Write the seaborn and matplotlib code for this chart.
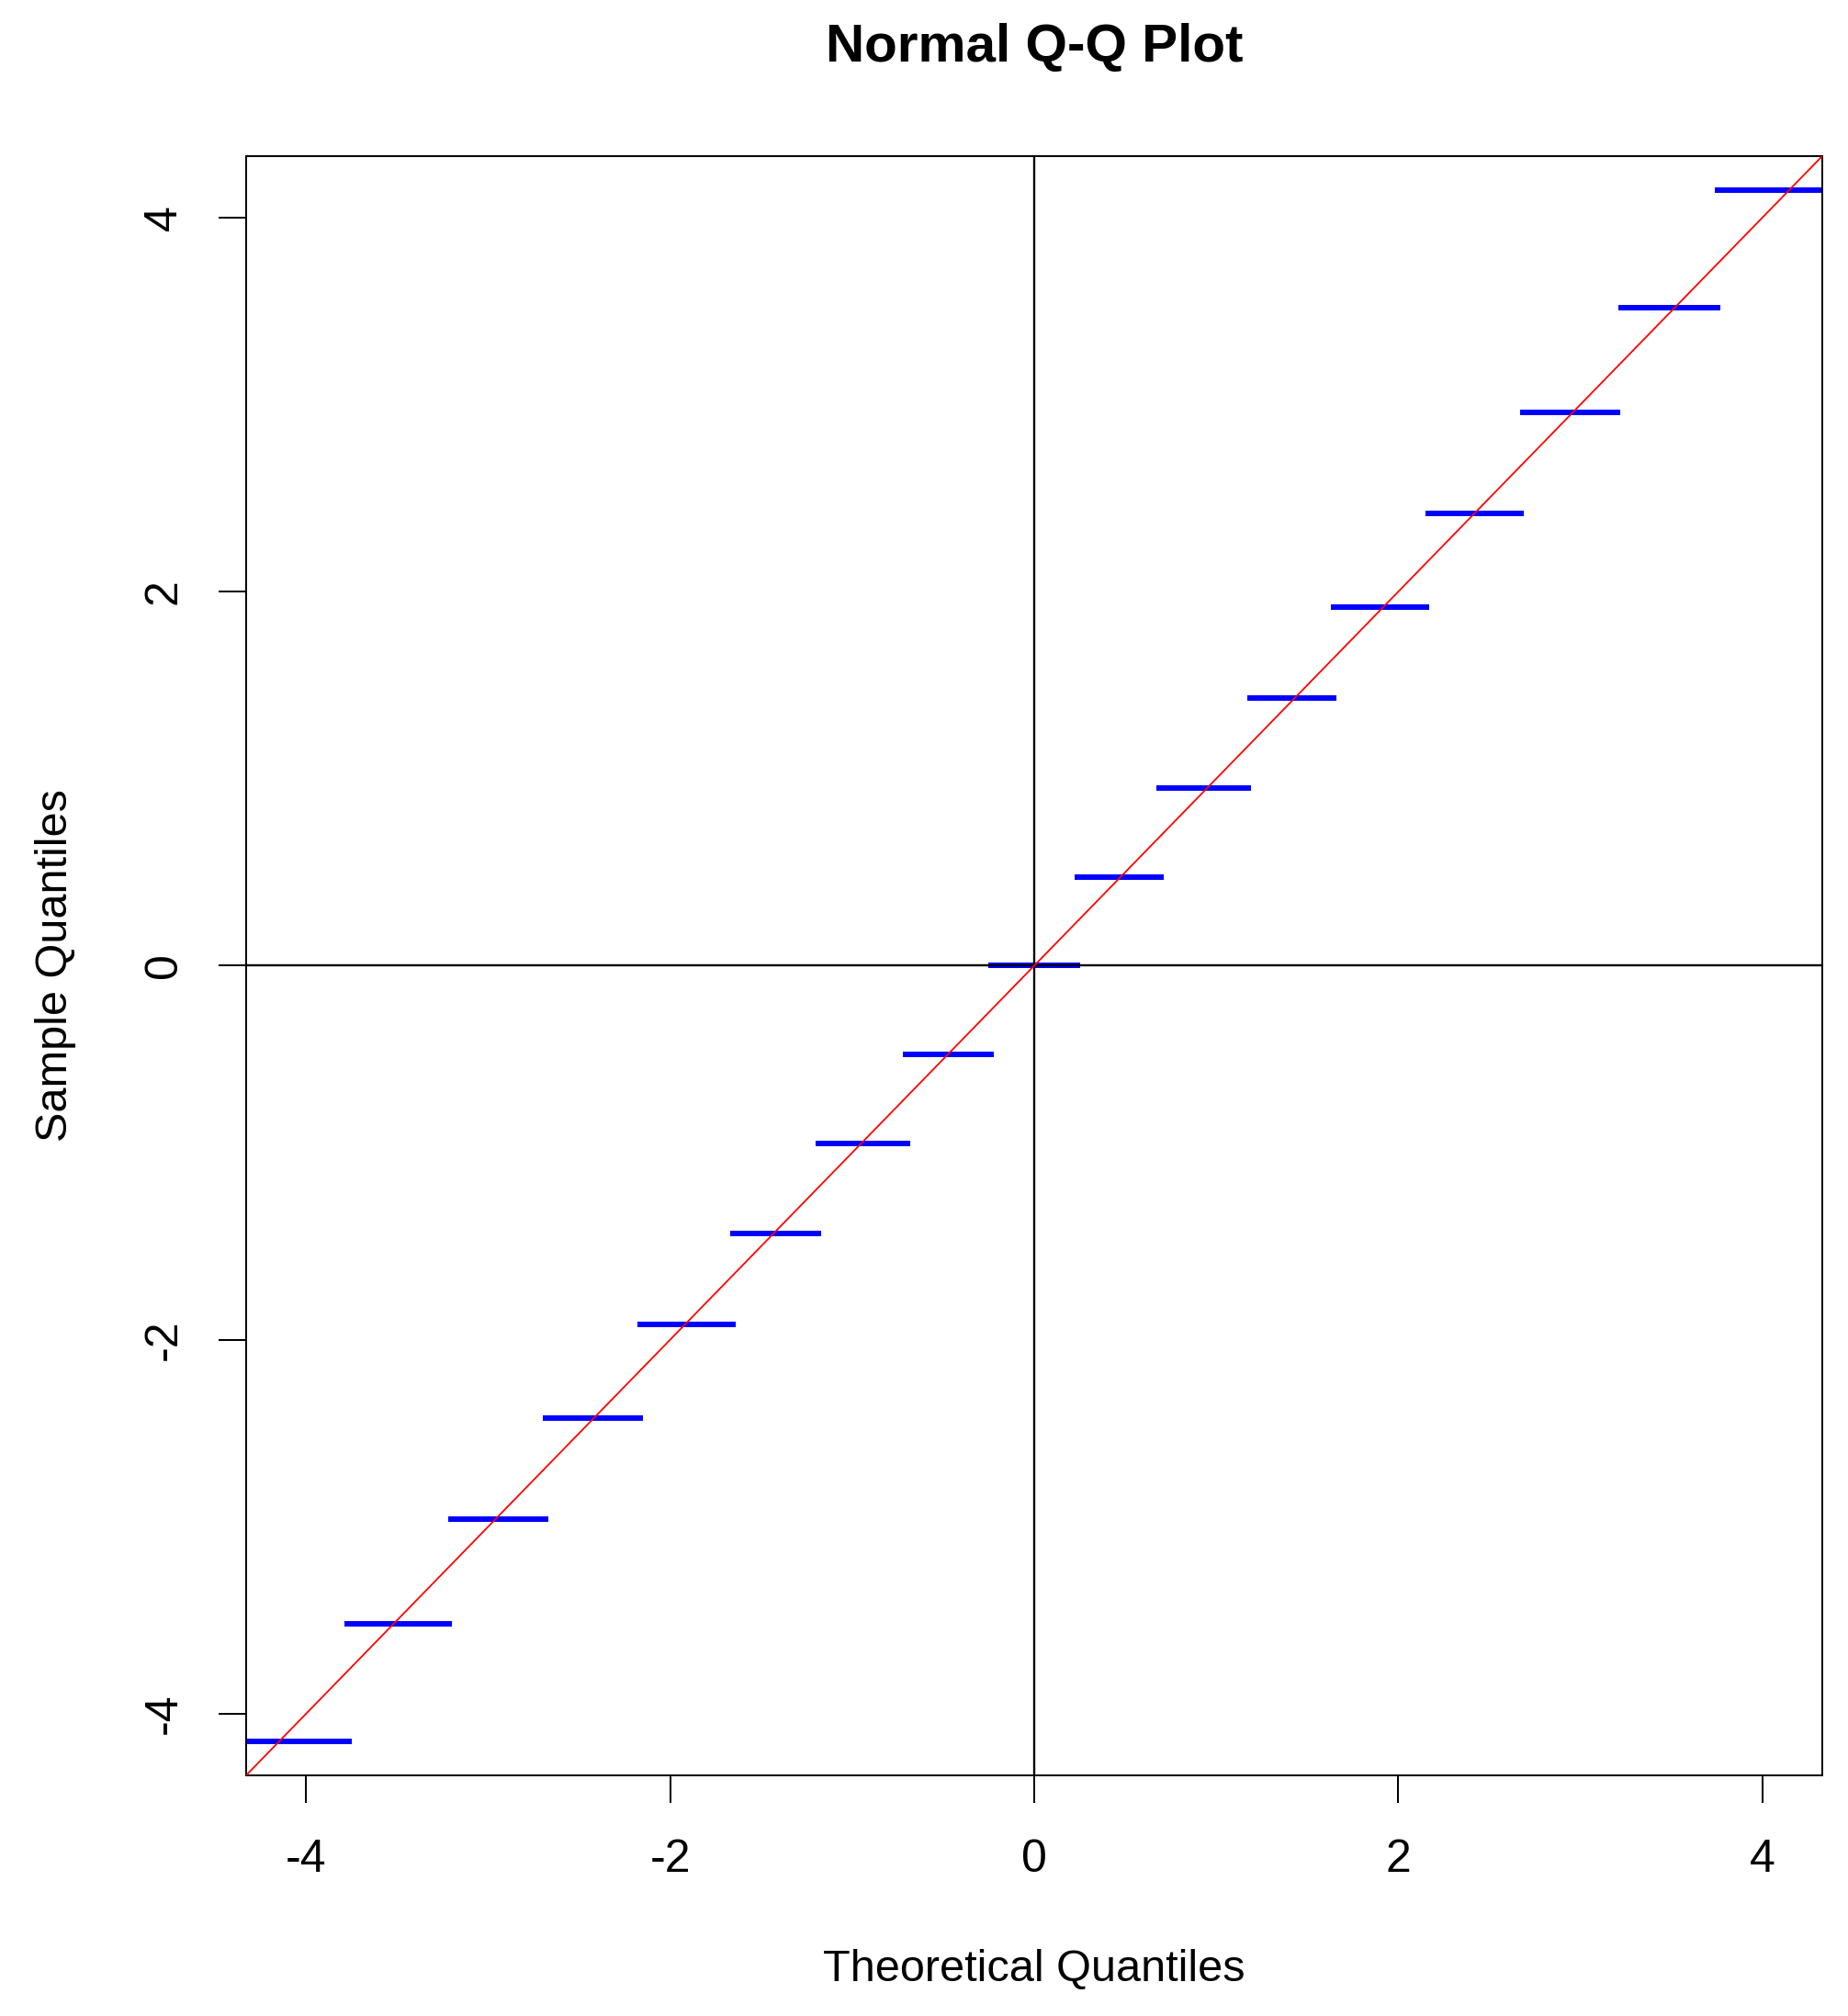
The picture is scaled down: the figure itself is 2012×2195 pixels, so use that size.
import pandas as pd
import seaborn as sns
from matplotlib import pyplot as plt

# sample quantile levels (blue steps) and the x span each step covers
step_y = [-4.15, -3.52, -2.96, -2.42, -1.92, -1.43, -0.95, -0.475, 0.0,
          0.475, 0.95, 1.43, 1.92, 2.42, 2.96, 3.52, 4.15]
step_x0 = [-4.6, -3.79, -3.22, -2.70, -2.18, -1.67, -1.20, -0.72, -0.25,
           0.22, 0.67, 1.17, 1.63, 2.15, 2.67, 3.21, 3.74]
step_x1 = [-3.75, -3.20, -2.67, -2.15, -1.64, -1.17, -0.68, -0.22, 0.25,
           0.71, 1.19, 1.66, 2.17, 2.69, 3.22, 3.77, 4.6]
ref_line = [-5, 5]
ticks = [-4, -2, 0, 2, 4]
lim = 4.33

rows = []
for i, (y, a, b) in enumerate(zip(step_y, step_x0, step_x1)):
    rows.append({"seg": i, "x": a, "y": y})
    rows.append({"seg": i, "x": b, "y": y})
df = pd.DataFrame(rows)

sns.set_style("ticks")
plt.rcParams["font.family"] = ["Liberation Sans", "DejaVu Sans"]
plt.rcParams["text.color"] = "black"
plt.rcParams["axes.labelcolor"] = "black"

fig = plt.figure(figsize=(20.12, 21.95), dpi=100)
ax = fig.add_axes([0.1332, 0.1194, 0.8529, 0.8032])

sns.lineplot(data=df, x="x", y="y", units="seg", estimator=None, sort=False,
             color="#0000ff", lw=4.3, solid_capstyle="butt", ax=ax, zorder=2)
ax.axhline(0, color="black", lw=1.7, zorder=3)
ax.axvline(0, color="black", lw=1.7, zorder=3)
sns.lineplot(x=ref_line, y=ref_line, color="red", lw=1.3, ax=ax, zorder=4)

ax.set_xlim(-lim, lim)
ax.set_ylim(-lim, lim)
ax.set_xticks(ticks)
ax.set_yticks(ticks)
ax.set_xticklabels([str(t) for t in ticks])
ax.set_yticklabels([str(t) for t in ticks], rotation=90, va="center")
ax.tick_params(axis="both", length=21.6, width=1.44, color="black",
               labelsize=36, labelcolor="black")
ax.tick_params(axis="x", pad=28)
ax.tick_params(axis="y", pad=26)
for s in ax.spines.values():
    s.set_visible(True)
    s.set_color("black")
    s.set_linewidth(1.44)

ax.set_xlabel("Theoretical Quantiles", fontsize=35, color="black")
ax.set_ylabel("Sample Quantiles", fontsize=35, color="black")
ax.xaxis.label.set_va("center")
ax.yaxis.label.set_va("center")
ax.xaxis.set_label_coords(0.5, -0.120)
ax.yaxis.set_label_coords(-0.1212, 0.5)

fig.text(1126 / 2012, 1 - 52 / 2195, "Normal Q-Q Plot", ha="center", va="center",
         fontsize=42, fontweight="bold", color="black")

fig.savefig("out.png", dpi=100, facecolor="white")
plt.close()
